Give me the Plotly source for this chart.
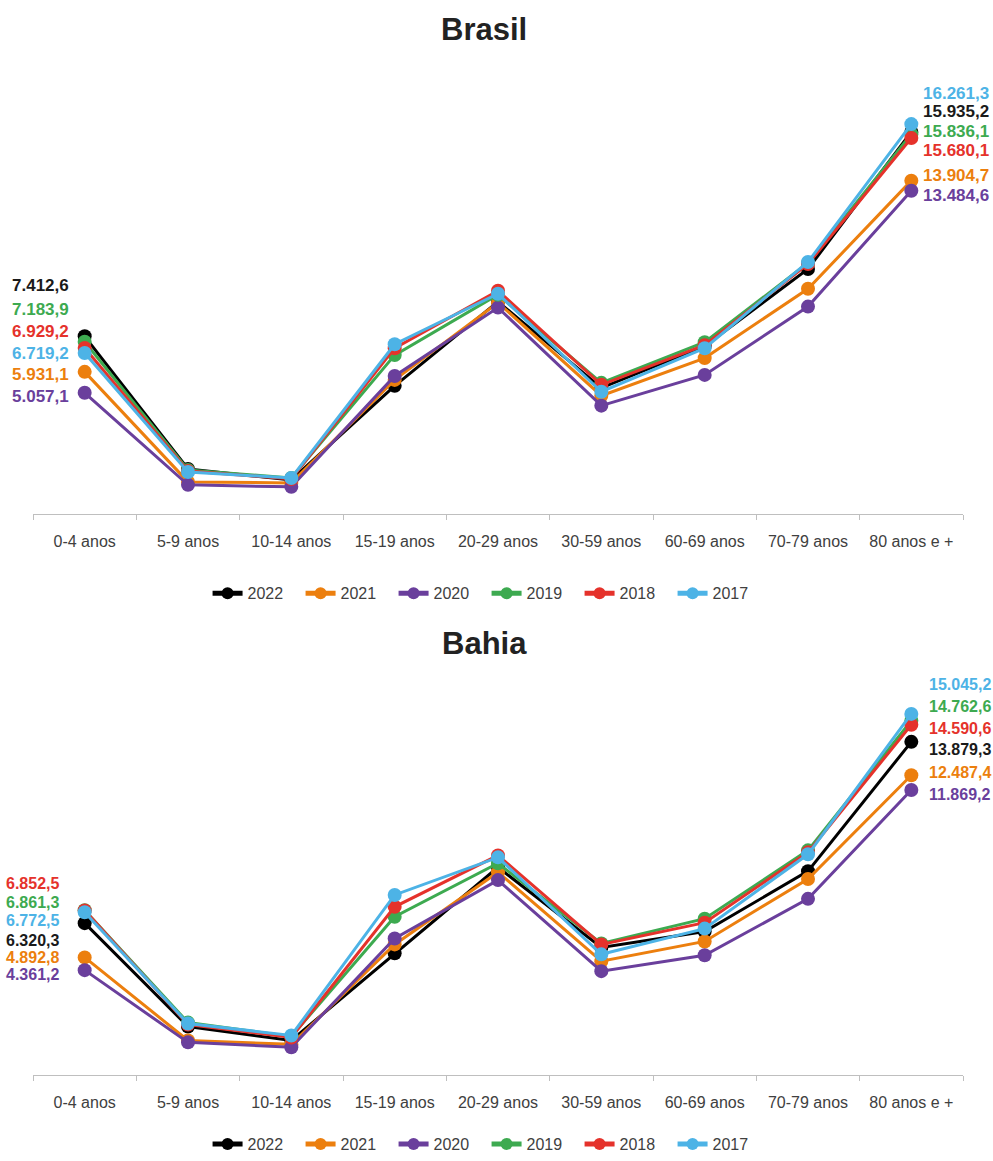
import plotly.graph_objects as go

W, H = 993, 1161

categorias = ["0-4 anos", "5-9 anos", "10-14 anos", "15-19 anos", "20-29 anos",
              "30-59 anos", "60-69 anos", "70-79 anos", "80 anos e +"]
anos = ["2022", "2021", "2020", "2019", "2018", "2017"]

# Brasil
br_2022 = [7412.6, 1879, 1425, 5348, 8859, 5266, 7000, 10222, 15935.2]
br_2021 = [5931.1, 1342, 1300, 5596, 8818, 4935, 6505, 9396, 13904.7]
br_2020 = [5057.1, 1218, 1136, 5761, 8611, 4522, 5803, 8652, 13484.6]
br_2019 = [7183.9, 1838, 1507, 6629, 9148, 5472, 7166, 10470, 15836.1]
br_2018 = [6929.2, 1797, 1466, 6918, 9314, 5390, 7042, 10428, 15680.1]
br_2017 = [6719.2, 1755, 1507, 7083, 9190, 5101, 6918, 10511, 16261.3]

# Bahia
ba_2022 = [6320.3, 2009, 1431, 5061, 8651, 5309, 5969, 8489, 13879.3]
ba_2021 = [4892.8, 1431, 1266, 5434, 8445, 4731, 5557, 8159, 12487.4]
ba_2020 = [4361.2, 1349, 1143, 5680, 8115, 4319, 4979, 7334, 11869.2]
ba_2019 = [6861.3, 2174, 1596, 6590, 8816, 5474, 6505, 9355, 14762.6]
ba_2018 = [6852.5, 2091, 1555, 7002, 9145, 5433, 6340, 9272, 14590.6]
ba_2017 = [6772.5, 2133, 1638, 7496, 9063, 5020, 6093, 9190, 15045.2]

brasil = dict(zip(anos, [br_2022, br_2021, br_2020, br_2019, br_2018, br_2017]))
bahia = dict(zip(anos, [ba_2022, ba_2021, ba_2020, ba_2019, ba_2018, ba_2017]))

cores = {"2022": "#000000", "2021": "#EC7F0E", "2020": "#6A3F9C",
         "2019": "#3DAA50", "2018": "#E5322B", "2017": "#4DB3E6"}
cores_txt = dict(cores, **{"2022": "#1a1a1a"})

FONT = "Liberation Sans, Arial, sans-serif"


def px(x):
    return x / W


def py(y):
    return 1 - y / H


def fmt_br(v):
    s = f"{v:,.1f}"
    return s.replace(",", "#").replace(".", ",").replace("#", ".")


fig = go.Figure()

paineis = [
    # dados, eixo x, eixo y, legenda
    (brasil, "x", "y", "legend"),
    (bahia, "x2", "y2", "legend2"),
]
for dados, xa, ya, leg in paineis:
    for ano in anos:
        fig.add_trace(go.Scatter(
            x=categorias, y=dados[ano], name=ano, mode="lines+markers",
            line=dict(color=cores[ano], width=3),
            marker=dict(color=cores[ano], size=14),
            xaxis=xa, yaxis=ya, legend=leg, cliponaxis=False,
            hoverinfo="skip",
        ))

eixo_x = dict(
    type="category", range=[-0.5, 8.5], showline=True, linecolor="#bfbfbf",
    linewidth=1, ticks="outside", tickson="boundaries", ticklen=5,
    tickcolor="#bfbfbf", showgrid=False, zeroline=False,
    tickfont=dict(family=FONT, size=16, color="#404040"),
    ticklabelstandoff=13, fixedrange=True,
)
eixo_y = dict(visible=False, showgrid=False, zeroline=False, fixedrange=True)

legenda = dict(orientation="h", x=0.49, xanchor="center", yanchor="middle",
               font=dict(size=16, color="#404040"), bgcolor="rgba(0,0,0,0)",
               itemsizing="constant", entrywidth=48)

fig.update_layout(
    width=W, height=H, autosize=False,
    margin=dict(l=0, r=0, t=0, b=0),
    paper_bgcolor="white", plot_bgcolor="white",
    font=dict(family=FONT, color="#404040"),
    xaxis=dict(eixo_x, domain=[px(33), px(963)], anchor="y"),
    yaxis=dict(eixo_y, domain=[py(519), py(59)], range=[0, 19000], anchor="x"),
    xaxis2=dict(eixo_x, domain=[px(33), px(963)], anchor="y2"),
    yaxis2=dict(eixo_y, domain=[py(1085), py(673.4)], range=[0, 17000], anchor="x2"),
    legend=dict(legenda, y=py(599)),
    legend2=dict(legenda, y=py(1155)),
    showlegend=True,
)

anot = []
# titulos
for titulo, y in [("Brasil", 30), ("Bahia", 650)]:
    anot.append(dict(text=f"<b>{titulo}</b>", x=px(484), y=py(y), xref="paper",
                     yref="paper", xanchor="center", yanchor="middle",
                     showarrow=False, font=dict(size=31, color="#222222")))

# rótulos de valor: primeira e última faixa etária
rotulos = [
    # dados, indice, ordem, x, alinhamento, posicoes y, tamanho
    (brasil, 0, ["2022", "2019", "2018", "2017", "2021", "2020"],
     71, "right", [288, 312, 335, 357, 378, 400], 17),
    (brasil, 8, ["2017", "2022", "2019", "2018", "2021", "2020"],
     921, "left", [94, 113, 133, 152, 177, 197], 17),
    (bahia, 0, ["2018", "2019", "2017", "2022", "2021", "2020"],
     61, "right", [892, 911, 929, 949, 967, 984], 16),
    (bahia, 8, ["2017", "2019", "2018", "2022", "2021", "2020"],
     927, "left", [691, 713, 735, 757, 780, 802], 16),
]
for dados, idx, ordem, x, al, ys, tam in rotulos:
    for ano, y in zip(ordem, ys):
        anot.append(dict(text=f"<b>{fmt_br(dados[ano][idx])}</b>",
                         x=px(x), y=py(y), xref="paper", yref="paper",
                         xanchor=al, yanchor="middle", showarrow=False,
                         font=dict(size=tam, color=cores_txt[ano])))

fig.update_layout(annotations=anot)
fig.write_html("out.html")
